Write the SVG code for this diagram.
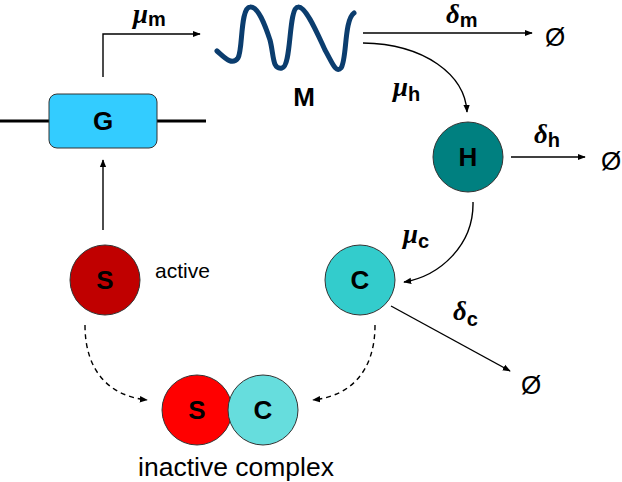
<svg xmlns="http://www.w3.org/2000/svg" width="622" height="482" viewBox="0 0 622 482">
<defs>
<marker id="ah" viewBox="0 0 10 10" refX="9" refY="5" markerWidth="8" markerHeight="8" markerUnits="userSpaceOnUse" orient="auto">
<path d="M0,1 L10,5 L0,9 Z" fill="#000"/>
</marker>
</defs>
<style>
.node circle{stroke:#333;stroke-width:1}
.lbl{font-family:"Liberation Sans",Arial,sans-serif;font-weight:bold;font-size:26px;text-anchor:middle;fill:#000}
.plain{font-family:"Liberation Sans",Arial,sans-serif;fill:#000}
.greek{font-family:"Liberation Serif","Times New Roman",serif;font-style:italic;font-weight:bold;font-size:27px}
.sub{font-family:"Liberation Sans",Arial,sans-serif;font-weight:bold;font-size:20px}
.conn path{fill:none;stroke:#000;stroke-width:1.4}
.conn .arr{marker-end:url(#ah)}
.conn .dash{stroke-dasharray:5,4}
.null{font-family:"Liberation Sans",Arial,sans-serif;font-size:26px;fill:#000}
</style>
<rect width="622" height="482" fill="#fff"/>

<g id="connectors" class="conn">
<path d="M0,121 H49 M157,121 H206" style="stroke-width:3"/>
<path class="arr" d="M103,77 V34 H200"/>
<path class="arr" d="M103,230 V160"/>
<path class="arr" d="M363,33 H532"/>
<path class="arr" d="M363,43 C425,44 465,75 467,112"/>
<path class="arr" d="M511,157 H585"/>
<path class="arr" d="M473,202 C474,245 440,276 404,282"/>
<path class="arr" d="M391,306 L510,371"/>
<path class="arr dash" d="M85,325 C85,372 110,396 147,400"/>
<path class="arr dash" d="M375,325 C375,372 350,396 313,400"/>
</g>

<g id="rate-labels">
<text x="133" y="23"><tspan class="greek">μ</tspan><tspan class="sub" dy="3">m</tspan></text>
<text x="446" y="23"><tspan class="greek">δ</tspan><tspan class="sub" dy="4">m</tspan></text>
<text x="393" y="96"><tspan class="greek">μ</tspan><tspan class="sub" dy="5">h</tspan></text>
<text x="534" y="143"><tspan class="greek">δ</tspan><tspan class="sub" dy="4">h</tspan></text>
<text x="403" y="243"><tspan class="greek">μ</tspan><tspan class="sub" dy="5">c</tspan></text>
<text x="453" y="320"><tspan class="greek">δ</tspan><tspan class="sub" dy="6">c</tspan></text>
</g>

<g id="G" class="node">
<rect x="49" y="94" width="108" height="54" rx="8" fill="#33CCFF" stroke="#333" stroke-width="1"/>
<text class="lbl" x="103" y="130">G</text>
</g>

<g id="M" class="node">
<path d="M217,51 C225,58 232,66 238,58 C243,50 240,8 250,7 C258,6 265,25 270,40 C274,55 272,70 282,68 C292,66 288,8 298,7 C306,6 318,35 325,50 C332,62 336,74 341,68 C347,60 344,20 354,13" fill="none" stroke="#0B3D6E" stroke-width="5" stroke-linecap="round" stroke-linejoin="round"/>
<text class="lbl" x="304" y="106">M</text>
</g>

<g id="H" class="node">
<circle cx="468" cy="157" r="35" fill="#008080"/>
<text class="lbl" x="468" y="166">H</text>
</g>

<g id="C" class="node">
<circle cx="360" cy="280" r="35" fill="#33CCCC"/>
<text class="lbl" x="360" y="289">C</text>
</g>

<g id="S" class="node">
<circle cx="105" cy="280" r="35" fill="#C00000"/>
<text class="lbl" x="105" y="289">S</text>
<text class="plain" x="155" y="278" style="font-size:21px">active</text>
</g>

<g id="complex" class="node">
<circle cx="197" cy="410" r="35" fill="#FF0000"/>
<circle cx="263" cy="410" r="35" fill="#66DDDD"/>
<text class="lbl" x="197" y="419">S</text>
<text class="lbl" x="263" y="419">C</text>
<text class="plain" x="236" y="476" style="font-size:26.5px;text-anchor:middle">inactive complex</text>
</g>

<g id="null-m"><text class="null" x="545" y="46">Ø</text></g>
<g id="null-h"><text class="null" x="601" y="170">Ø</text></g>
<g id="null-c"><text class="null" x="521" y="394">Ø</text></g>
</svg>
